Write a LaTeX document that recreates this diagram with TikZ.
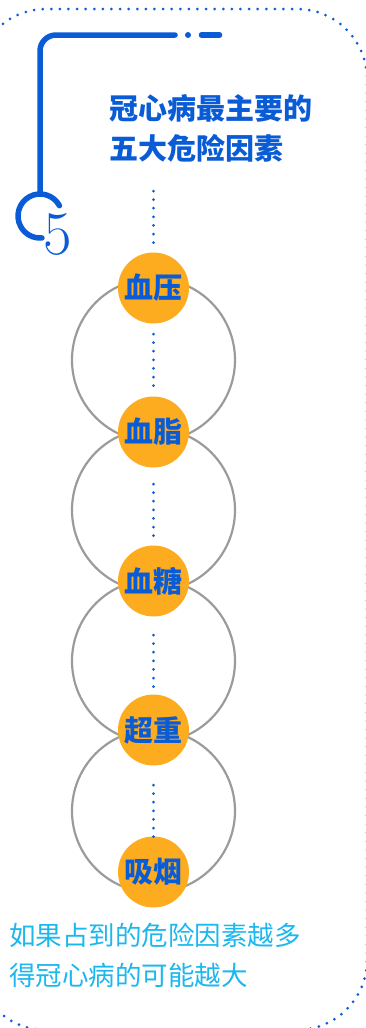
\documentclass[tikz,border=0pt]{standalone}
\usepackage{fontspec}
\newfontfamily\cjk{Noto Sans CJK SC}
\newfontfamily\cjkheavy{Noto Sans CJK SC Black}
\definecolor{riskblue}{HTML}{0A5CD6}
\definecolor{riskorange}{HTML}{FDAC1F}
\definecolor{riskcyan}{HTML}{1BB7EE}
\definecolor{ringgray}{HTML}{9B9B9B}
\begin{document}
\begin{tikzpicture}[x=1pt,y=1pt,
ring/.style={circle,draw=ringgray,line width=2.2pt,minimum size=163pt,inner sep=0pt},
risk/.style={circle,fill=riskorange,minimum size=71pt,inner sep=0pt,text=riskblue,font=\cjkheavy\fontsize{29}{29}\selectfont},
dotline/.style={riskblue,line width=3pt,line cap=round,dash pattern=on 0pt off 8.6pt},
bracket/.style={riskblue,line width=5.5pt,line cap=round}]

\useasboundingbox (0,0) rectangle (366,-1028);

\draw[dotline,rounded corners=70pt] (-24,-9) rectangle (367,-1030);

\draw[bracket,rounded corners=16pt] (40,-194)--(40,-35)--(175,-35);

\fill[riskblue] (188,-35) circle (3pt);

\draw[bracket] (201.5,-35)--(219.5,-35);

\draw[bracket] (40,-216) ++(28:22) arc[start angle=28,end angle=275,radius=22];

\node[riskblue,inner sep=0pt,font=\fontsize{62}{62}\selectfont] (five) at (57.5,-235){5};

\node[anchor=base west,inner sep=0pt,text=riskblue,font=\cjkheavy\fontsize{29}{29}\selectfont] (title1) at (109,-119){冠心病最主要的};

\node[anchor=base west,inner sep=0pt,text=riskblue,font=\cjkheavy\fontsize{29}{29}\selectfont] (title2) at (109,-159){五大危险因素};

\node[ring] (r1) at (153.5,-360){};

\node[ring] (r2) at (153.5,-510){};

\node[ring] (r3) at (153.5,-661){};

\node[ring] (r4) at (153.5,-811){};

\node[risk] (bp) at (153.5,-288){血压};

\node[risk] (bl) at (153.5,-432){血脂};

\node[risk] (bs) at (153.5,-581){血糖};

\node[risk] (ow) at (153.5,-730){超重};

\node[risk] (sm) at (153.5,-872){吸烟};

\coordinate (tt) at (153.5,-191);

\draw[dotline] (tt)--([yshift=9pt]bp.north);

\foreach \r in {r1,r2,r3,r4}
\draw[dotline] ([yshift=26pt]\r.center)--([yshift=-26pt]\r.center);

\node[anchor=base west,inner sep=0pt,text=riskcyan,font=\cjk\fontsize{26.5}{26.5}\selectfont] (note1) at (9,-945){如果占到的危险因素越多};

\node[anchor=base west,inner sep=0pt,text=riskcyan,font=\cjk\fontsize{26.5}{26.5}\selectfont] (note2) at (9,-985){得冠心病的可能越大};

\end{tikzpicture}
\end{document}
